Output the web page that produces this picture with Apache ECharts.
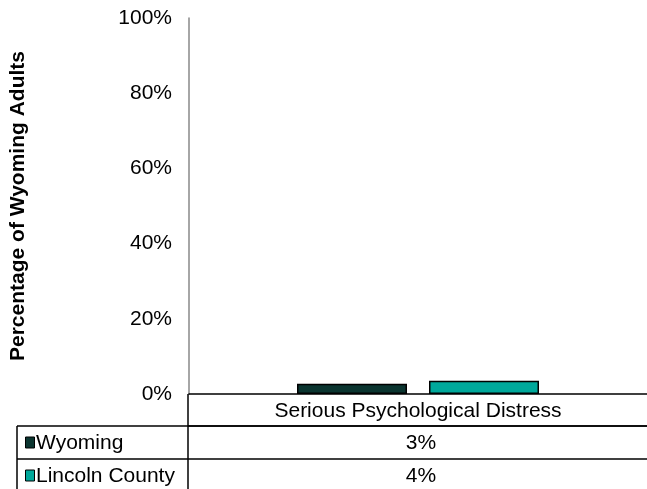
<!DOCTYPE html>
<html><head><meta charset="utf-8">
<script src="https://cdn.jsdelivr.net/npm/echarts@6/dist/echarts.min.js"></script>
<style>html,body{margin:0;padding:0;background:#fff}#c{width:647px;height:489px}</style>
</head><body><div id="c"></div>
<script>
var categories = ['Serious Psychological Distress'];
var seriesNames = ['Wyoming', 'Lincoln County'];
var wyoming = [2.7];
var lincoln = [3.5];
var tableLabels = ['3%', '4%'];
var yTicks = [0, 20, 40, 60, 80, 100];
var colors = ['#0b3530', '#00a89b'];

var chart = echarts.init(document.getElementById('c'));
var F = 'Liberation Sans, Arial, sans-serif';
var L = {left: 188, top: 18, bottom: 394, right: 654, tLeft: 17, r1: 426, r2: 459, r3: 492};
var graphics = [];
function line(x1, y1, x2, y2, w) {
  graphics.push({type: 'line', shape: {x1: x1, y1: y1, x2: x2, y2: y2}, style: {stroke: '#000', lineWidth: w || 1.5}, z: 10});
}
line(L.left, L.r1, 647, L.r1);
line(L.tLeft, L.r1, 647, L.r1);
line(L.tLeft, L.r2, 647, L.r2);
line(L.left, L.bottom, L.left, L.r3);
line(L.tLeft, L.r1, L.tLeft, L.r3);
var rows = [[L.r1, L.r2], [L.r2, L.r3]];
seriesNames.forEach(function (n, i) {
  var yc = (rows[i][0] + rows[i][1]) / 2;
  graphics.push({type: 'rect', shape: {x: 25.5, y: yc - 5.5, width: 9, height: 11}, style: {fill: colors[i], stroke: '#000', lineWidth: 1}, z: 10});
  graphics.push({type: 'text', x: 36, y: yc + 1, style: {text: n, font: '21px ' + F, fill: '#000', textVerticalAlign: 'middle'}, z: 10});
  graphics.push({type: 'text', x: (L.left + L.right) / 2, y: yc + 1, style: {text: tableLabels[i], font: '21px ' + F, fill: '#000', textAlign: 'center', textVerticalAlign: 'middle'}, z: 10});
});

chart.setOption({
  animation: false,
  grid: {left: L.left, right: 647 - L.right, top: L.top, bottom: 489 - L.bottom, containLabel: false},
  xAxis: {
    type: 'category', data: categories,
    axisLine: {show: true, lineStyle: {color: '#000', width: 1.5}},
    axisTick: {show: false},
    axisLabel: {fontFamily: F, fontSize: 21, color: '#000', margin: 7}
  },
  yAxis: {
    type: 'value', min: 0, max: 100, interval: 20,
    name: 'Percentage of Wyoming Adults', nameLocation: 'middle', nameGap: 160,
    nameTextStyle: {fontFamily: F, fontSize: 21, fontWeight: 'bold', color: '#000'},
    axisLine: {show: true, lineStyle: {color: '#888', width: 1.5}},
    axisTick: {show: false},
    splitLine: {show: false},
    axisLabel: {fontFamily: F, fontSize: 21, color: '#000', margin: 17, formatter: '{value}%'}
  },
  series: [
    {name: seriesNames[0], type: 'bar', data: wyoming, barWidth: 110, barGap: '20%',
     itemStyle: {color: colors[0], borderColor: '#000', borderWidth: 1.5}},
    {name: seriesNames[1], type: 'bar', data: lincoln, barWidth: 110,
     itemStyle: {color: colors[1], borderColor: '#000', borderWidth: 1.5}}
  ],
  graphic: graphics
});
</script></body></html>
